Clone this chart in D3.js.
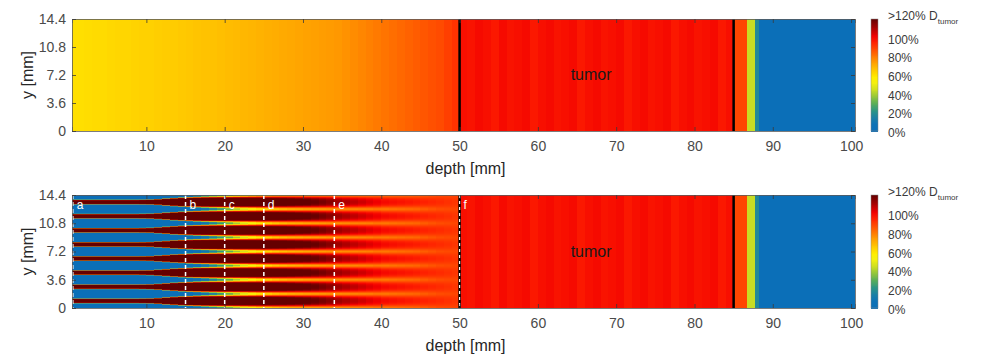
<!DOCTYPE html>
<html>
<head>
<meta charset="utf-8">
<script src="https://cdn.jsdelivr.net/npm/d3@7"></script>
<style>
  body { margin: 0; background: #fff; }
  text { font-family: "Liberation Sans", Arial, sans-serif; }
</style>
</head>
<body>
<div id="chart"></div>
<script>

// colormap of the dose (percent of tumor dose)
var cmapStops  = [0, 8, 15, 22, 30, 38, 45, 52, 58, 65, 75, 85, 95, 102, 110, 120];
var cmapColors = ["#0b6fb8", "#0d72b6", "#1c80a4", "#2c9585", "#5aae58", "#98c838", "#d0e020", "#f4f010",
                  "#ffee00", "#ffcc00", "#ff9800", "#ff5c00", "#ff2200", "#f20000", "#b00000", "#650000"];

// top panel: homogeneous field, dose per depth bin [mm]
var topEdges = d3.range(0, 86).concat([86.7, 87.7, 88.2, 100.5]);
var topDose = [61, 61, 61.5, 62, 62, 62.5, 63, 63, 63.5, 64,
               64, 64.5, 65, 65, 65.5, 66, 66.5, 67, 67, 67.5,
               68, 68.5, 69, 69.5, 70, 70.5, 71, 71.5, 72, 72.5,
               73, 73.5, 74, 74.5, 75, 76, 77, 78, 79, 80,
               81, 82, 83, 84, 85, 86, 87, 88, 90, 92,
               99, 98, 100, 99, 97, 100, 98, 99, 100, 97,
               99, 100, 98, 99, 100, 97, 99, 100, 98, 99,
               100, 97, 99, 100, 98, 99, 100, 97, 99, 100,
               98, 99, 100, 97, 99,
               89, 44, 18, 0];

// bottom panel: minibeams up to 50 mm depth (1 mm bins)
var beamCenters = [0.9, 2.7, 4.5, 6.3, 8.1, 9.9, 11.7, 13.5];
var beamPitch = 1.8;
var peakDose = [125, 125, 125, 125, 125, 125, 125, 125, 125, 125,
                125, 125, 125, 125, 125, 125, 125, 125, 125, 125,
                125, 125, 125, 125, 125, 125, 125, 125, 124, 123,
                122, 120, 118, 116, 113, 111, 109, 107, 105, 103,
                101, 100, 99, 98, 97, 96, 95, 94, 93, 92];
var valleyDose = [0, 0, 0, 0, 0, 0, 0, 0, 0, 0,
                  0, 0, 0, 0, 0, 0, 3, 8, 14, 20,
                  27, 34, 41, 47, 52, 56, 59, 61, 63, 64,
                  65, 66, 67, 68, 69, 70, 71, 72, 73, 75,
                  76, 77, 78, 79, 80, 82, 84, 86, 87, 88];
var beamWidth = [0.55, 0.55, 0.55, 0.55, 0.55, 0.55, 0.55, 0.55, 0.55, 0.57,
                 0.6, 0.72, 0.86, 1.0, 1.1, 1.18, 1.24, 1.28, 1.31, 1.33,
                 1.34, 1.35, 1.35, 1.35, 1.35, 1.34, 1.33, 1.32, 1.31, 1.3,
                 1.3, 1.3, 1.3, 1.3, 1.3, 1.3, 1.3, 1.3, 1.3, 1.3,
                 1.25, 1.25, 1.25, 1.25, 1.25, 1.25, 1.25, 1.25, 1.25, 1.25];
var edgeBlur = [0.04, 0.04, 0.04, 0.04, 0.04, 0.04, 0.04, 0.04, 0.04, 0.04,
                0.04, 0.04, 0.05, 0.05, 0.06, 0.07, 0.08, 0.09, 0.1, 0.11,
                0.12, 0.13, 0.14, 0.15, 0.16, 0.17, 0.18, 0.19, 0.2, 0.21,
                0.22, 0.23, 0.24, 0.25, 0.26, 0.27, 0.28, 0.29, 0.3, 0.31,
                0.32, 0.33, 0.34, 0.35, 0.36, 0.37, 0.38, 0.39, 0.4, 0.4];

// markers
var tumorEdges = [50, 85];
var cutDepths = [0.6, 15, 20, 25, 34];
var cutLabels = ["a", "b", "c", "d", "e", "f"];
var xTicks = [10, 20, 30, 40, 50, 60, 70, 80, 90, 100];
var yTicks = [0, 3.6, 7.2, 10.8, 14.4];
var cbTicks = [0, 20, 40, 60, 80, 100];

var W = 981, H = 356;
var left = 72, right = 855;
var panels = [{top: 19, bottom: 131, mini: false}, {top: 195, bottom: 308, mini: true}];

var color = d3.scaleLinear().domain(cmapStops).range(cmapColors).clamp(true);
var x = d3.scaleLinear().domain([0.5, 100.5]).range([left, right]);

var svg = d3.select("#chart").append("svg")
  .attr("width", W).attr("height", H);

var defs = svg.append("defs");

function beamDose(i, yv) {
  // distance to the nearest beam center (periodic pattern)
  var r = Math.abs(((yv - beamCenters[0]) % beamPitch + beamPitch * 1.5) % beamPitch - beamPitch / 2);
  var s = 0.5 * (1 - Math.tanh((r - beamWidth[i] / 2) / edgeBlur[i]));
  return valleyDose[i] + (peakDose[i] - valleyDose[i]) * s;
}

// average colour of one screen row (a few samples inside the row)
function rowColor(i, y, py) {
  var n = 5, r = 0, gg = 0, b = 0;
  for (var k = 0; k < n; k++) {
    var c = d3.rgb(color(beamDose(i, y.invert(py + (k + 0.5) / n))));
    r += c.r; gg += c.g; b += c.b;
  }
  return d3.rgb(r / n, gg / n, b / n).formatHex();
}

panels.forEach(function(p, pi) {
  var y = d3.scaleLinear().domain([0, 14.4]).range([p.bottom, p.top]);

  defs.append("clipPath").attr("id", "clip" + pi)
    .append("rect").attr("x", left).attr("y", p.top)
    .attr("width", right - left).attr("height", p.bottom - p.top);

  var g = svg.append("g").attr("clip-path", "url(#clip" + pi + ")")
    .attr("shape-rendering", "crispEdges");

  // homogeneous columns
  var cols = topDose.map(function(v, i) { return {x0: topEdges[i], x1: topEdges[i + 1], v: v}; });
  if (p.mini) cols = cols.filter(function(d) { return d.x0 >= 50; });
  g.selectAll("rect.col").data(cols).enter().append("rect")
    .attr("class", "col")
    .attr("x", function(d) { return x(d.x0); })
    .attr("y", p.top)
    .attr("width", function(d) { return x(d.x1) - x(d.x0) + 0.6; })
    .attr("height", p.bottom - p.top)
    .attr("fill", function(d) { return color(d.v); });

  if (p.mini) {
    // one cell per screen row in each 1 mm depth bin
    var rows = d3.range(p.top, p.bottom);
    var cells = [];
    peakDose.forEach(function(pk, i) {
      rows.forEach(function(py) {
        cells.push({x0: i, x1: i + 1, py: py, c: rowColor(i, y, py)});
      });
    });
    g.selectAll("rect.cell").data(cells).enter().append("rect")
      .attr("class", "cell")
      .attr("x", function(d) { return x(d.x0); })
      .attr("y", function(d) { return d.py; })
      .attr("width", function(d) { return x(d.x1) - x(d.x0) + 0.6; })
      .attr("height", 1)
      .attr("fill", function(d) { return d.c; });

    var lines = svg.append("g").attr("clip-path", "url(#clip" + pi + ")");
    // cut lines a-e
    cutDepths.forEach(function(cd, k) {
      lines.append("line")
        .attr("x1", x(cd)).attr("x2", x(cd)).attr("y1", p.top).attr("y2", p.bottom)
        .attr("stroke", "#fff").attr("stroke-width", 1.5).attr("stroke-dasharray", "4,3");
    });
    // f : black and white dashes on the tumor edge
    lines.append("line")
      .attr("x1", x(50)).attr("x2", x(50)).attr("y1", p.top).attr("y2", p.bottom)
      .attr("stroke", "#000").attr("stroke-width", 2.5);
    lines.append("line")
      .attr("x1", x(50)).attr("x2", x(50)).attr("y1", p.top).attr("y2", p.bottom)
      .attr("stroke", "#fff").attr("stroke-width", 1.2).attr("stroke-dasharray", "3,3");
    lines.append("line")
      .attr("x1", x(85)).attr("x2", x(85)).attr("y1", p.top).attr("y2", p.bottom)
      .attr("stroke", "#000").attr("stroke-width", 2.5);

    cutDepths.concat([50]).forEach(function(cd, k) {
      lines.append("text")
        .attr("x", x(cd) + 4).attr("y", p.top + 14)
        .attr("fill", "#fff").style("font-size", "12px")
        .text(cutLabels[k]);
    });
  } else {
    tumorEdges.forEach(function(te) {
      svg.append("line")
        .attr("x1", x(te)).attr("x2", x(te)).attr("y1", p.top).attr("y2", p.bottom)
        .attr("stroke", "#000").attr("stroke-width", 2.5);
    });
  }

  svg.append("text")
    .attr("x", x(66.8)).attr("y", (p.top + p.bottom) / 2 + 5)
    .attr("text-anchor", "middle").attr("fill", "#1a1a1a")
    .style("font-size", "16px")
    .text("tumor");

  // axes (inner ticks, box)
  var axB = svg.append("g").attr("transform", "translate(0," + p.bottom + ")")
    .call(d3.axisBottom(x).tickValues(xTicks).tickSize(-4).tickPadding(10));
  var axT = svg.append("g").attr("transform", "translate(0," + p.top + ")")
    .call(d3.axisTop(x).tickValues(xTicks).tickSize(-4).tickFormat(""));
  var axL = svg.append("g").attr("transform", "translate(" + left + ",0)")
    .call(d3.axisLeft(y).tickValues(yTicks).tickSize(-4).tickPadding(6).tickFormat(function(d) { return d; }));
  var axR = svg.append("g").attr("transform", "translate(" + right + ",0)")
    .call(d3.axisRight(y).tickValues(yTicks).tickSize(-4).tickFormat(""));
  [axB, axT, axL, axR].forEach(function(a) {
    a.select(".domain").attr("stroke", "#5a5a5a").attr("stroke-width", 0.8);
    a.selectAll(".tick line").attr("stroke", "#3a3a3a").attr("stroke-width", 0.8);
    a.selectAll("text").attr("fill", "#4a4a4a").style("font-size", "14px")
      .style("font-family", "'Liberation Sans', Arial, sans-serif");
  });

  svg.append("text")
    .attr("x", (left + right) / 2 + 2).attr("y", p.bottom + 43)
    .attr("text-anchor", "middle").attr("fill", "#262626")
    .style("font-size", "16px")
    .text("depth [mm]");

  svg.append("text")
    .attr("transform", "translate(33," + ((p.top + p.bottom) / 2) + ") rotate(-90)")
    .attr("text-anchor", "middle").attr("fill", "#262626")
    .style("font-size", "16px")
    .text("y [mm]");

  // colorbar
  var cb = d3.scaleLinear().domain([0, 120]).range([p.bottom, p.top]);
  var cbx = 871, cbw = 7;
  svg.append("g").attr("shape-rendering", "crispEdges")
    .selectAll("rect").data(d3.range(0, 120, 0.5)).enter().append("rect")
    .attr("x", cbx).attr("width", cbw)
    .attr("y", function(d) { return cb(d + 0.5); })
    .attr("height", function(d) { return cb(d) - cb(d + 0.5) + 0.6; })
    .attr("fill", function(d) { return color(d + 0.25); });
  svg.append("rect").attr("x", cbx).attr("y", p.top).attr("width", cbw).attr("height", p.bottom - p.top)
    .attr("fill", "none").attr("stroke", "#888").attr("stroke-width", 0.5);

  svg.append("g").selectAll("text").data(cbTicks).enter().append("text")
    .attr("x", cbx + 17).attr("y", function(d) { return cb(d) + 6; })
    .attr("fill", "#3a3a3a").style("font-size", "12px")
    .text(function(d) { return d + "%"; });
  var top120 = svg.append("text")
    .attr("x", cbx + 17).attr("y", cb(120) + 1)
    .attr("fill", "#3a3a3a").style("font-size", "12px");
  top120.append("tspan").text(">120% D");
  top120.append("tspan").attr("dy", 4).style("font-size", "8px").text("tumor");
});

</script>
</body>
</html>
